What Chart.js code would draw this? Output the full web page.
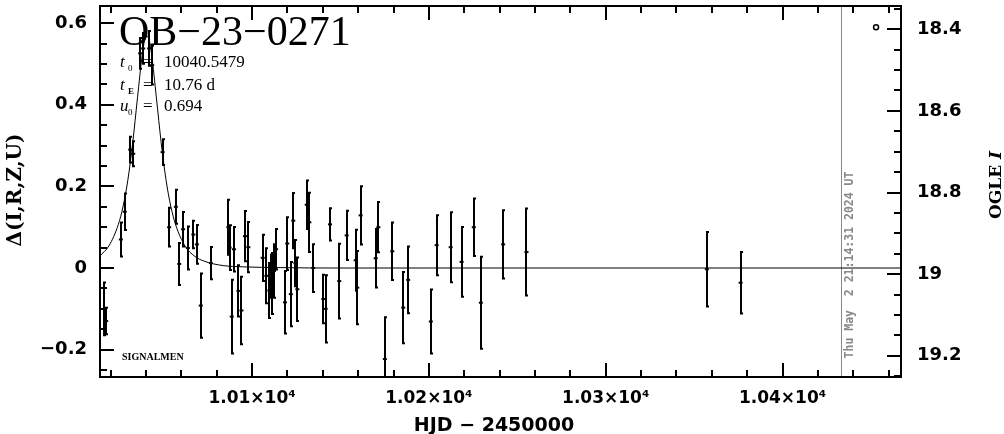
<!DOCTYPE html>
<html>
<head>
<meta charset="utf-8">
<script src="https://cdn.jsdelivr.net/npm/chart.js@4.4.1/dist/chart.umd.min.js"></script>
<style>
  html, body { margin: 0; padding: 0; background: #fff; overflow: hidden; }
</style>
</head>
<body>
<canvas id="lc" width="1004" height="434"></canvas>
<script>
// OGLE photometry: HJD - 2450000, delta mag and its error
const hjd = [10016.4, 10017.5, 10025.8, 10028.0, 10031.1, 10032.8, 10036.7, 10038.4, 10041.8, 10043.5,
  10049.4, 10053.1, 10056.9, 10058.8, 10061.0, 10063.7, 10066.8, 10068.8, 10071.0, 10076.7,
  10086.6, 10087.3, 10088.5, 10089.8, 10092.3, 10094.0, 10096.0, 10097.9, 10106.0, 10108.1,
  10109.8, 10110.5, 10111.1, 10112.4, 10113.6, 10118.6, 10119.9, 10121.9, 10123.3, 10124.5,
  10125.6, 10130.9, 10132.4, 10134.6, 10140.3, 10141.6, 10144.1, 10149.3, 10153.5, 10158.6,
  10159.5, 10161.4, 10169.9, 10171.4, 10175.1, 10179.3, 10185.5, 10188.3, 10201.1, 10204.4,
  10212.3, 10218.5, 10225.4, 10229.4, 10242.0, 10255.2, 10357.2, 10376.3];
const dmag = [-0.10, -0.13, 0.070, 0.138, 0.29, 0.28, 0.526, 0.538, 0.538, 0.497,
  0.284, 0.10, 0.15, 0.01, 0.095, 0.049, 0.082, 0.058, -0.092, 0.012,
  0.10, 0.05, -0.119, 0.046, -0.056, -0.104, 0.078, 0.051, 0.025, -0.019,
  -0.055, -0.02, -0.038, -0.007, 0.046, -0.084, 0.06, -0.064, 0.116, 0.012,
  -0.052, 0.155, 0.112, 0.0, -0.076, -0.10, 0.107, -0.032, 0.08, 0.019,
  -0.048, 0.129, 0.024, 0.10, -0.223, 0.041, -0.097, -0.029, -0.131, 0.056,
  0.051, 0.015, 0.10, -0.085, 0.058, 0.039, -0.003, -0.036];
const dmagErr = [0.067, 0.035, 0.044, 0.047, 0.034, 0.033, 0.04, 0.04, 0.045, 0.05,
  0.034, 0.05, 0.044, 0.054, 0.045, 0.055, 0.036, 0.05, 0.081, 0.042,
  0.07, 0.057, 0.093, 0.057, 0.065, 0.085, 0.064, 0.064, 0.059, 0.07,
  0.07, 0.055, 0.077, 0.068, 0.052, 0.079, 0.067, 0.081, 0.07, 0.059,
  0.08, 0.062, 0.075, 0.061, 0.062, 0.085, 0.042, 0.094, 0.063, 0.077,
  0.092, 0.074, 0.074, 0.064, 0.105, 0.073, 0.09, 0.084, 0.081, 0.076,
  0.088, 0.088, 0.073, 0.115, 0.086, 0.109, 0.094, 0.078];

// model curve as traced on the plot
const modelHjd = [10014, 10019.0, 10024.4, 10027.1, 10029.8, 10032.5, 10035.2, 10037.9, 10039.2, 10040.55,
  10041.9, 10043.2, 10045.9, 10048.6, 10051.3, 10054.0, 10056.7, 10062.1, 10067.5, 10072.8,
  10083.6, 10094.4, 10115.9, 10148.2, 10467];
const modelMag = [0.030, 0.054, 0.107, 0.152, 0.217, 0.307, 0.417, 0.523, 0.557, 0.569,
  0.557, 0.523, 0.417, 0.307, 0.217, 0.152, 0.107, 0.054, 0.029, 0.017,
  0.006, 0.003, 0.001, 0.0, 0.0];

// little circle marker top right
const markerHjd = [10452.9];
const markerMag = [0.59];

// tick labels
const xMajor = [10100, 10200, 10300, 10400];
const yMajor = [-0.2, 0, 0.2, 0.4, 0.6];
const magMajor = [18.4, 18.6, 18.8, 19, 19.2];

const stampHjd = 10433.2;
const stampText = "Thu May  2 21:14:31 2024 UT";

const black = "#000";
const tickFont = { family: "DejaVu Sans", size: 18, weight: "bold" };

function stepTicks(from, to, step, dec) {
  const out = [];
  const n = Math.round((to - from) / step);
  for (let i = 0; i <= n; i++) out.push({ value: +(from + i * step).toFixed(dec) });
  return out;
}
const isMajor = (v, list) => list.some(m => Math.abs(m - v) < 1e-6);

// fixed box sizes, no extra label padding
function fixBox(size, horizontal) {
  return s => {
    if (horizontal) s.height = size; else s.width = size;
    s.paddingTop = 0; s.paddingBottom = 0; s.paddingLeft = 0; s.paddingRight = 0;
  };
}

// ticks inside the frame, frame, error bars, texts
const lcPlugin = {
  id: "lcPlugin",
  beforeDatasetsDraw(chart) {
    const { ctx, chartArea: a, scales } = chart;
    const x = scales.x, y = scales.y;
    ctx.save();
    ctx.beginPath();
    ctx.rect(a.left, a.top, a.right - a.left, a.bottom - a.top);
    ctx.clip();
    // stamp line
    const sx = Math.round(x.getPixelForValue(stampHjd));
    ctx.strokeStyle = "#888";
    ctx.lineWidth = 1;
    ctx.beginPath();
    ctx.moveTo(sx + 0.5, a.top);
    ctx.lineTo(sx + 0.5, a.bottom);
    ctx.stroke();
    // error bars
    ctx.strokeStyle = black;
    ctx.lineWidth = 2;
    for (let i = 0; i < hjd.length; i++) {
      const px = Math.round(x.getPixelForValue(hjd[i]));
      const top = y.getPixelForValue(dmag[i] + dmagErr[i]);
      const bot = y.getPixelForValue(dmag[i] - dmagErr[i]);
      ctx.beginPath();
      ctx.moveTo(px, top);
      ctx.lineTo(px, bot);
      ctx.moveTo(px - 1, top + 1);
      ctx.lineTo(px + 2, top + 1);
      ctx.moveTo(px - 1, bot - 1);
      ctx.lineTo(px + 2, bot - 1);
      ctx.stroke();
    }
    ctx.restore();
  },
  afterDraw(chart) {
    const { ctx, chartArea: a, scales } = chart;
    const x = scales.x, y = scales.y, y2 = scales.y2;
    ctx.save();
    ctx.strokeStyle = black;
    ctx.fillStyle = black;
    ctx.lineWidth = 2;
    ctx.beginPath();
    x.ticks.forEach(t => {
      const px = Math.round(x.getPixelForValue(t.value));
      const len = isMajor(t.value, xMajor) ? 14 : 7;
      ctx.moveTo(px, a.bottom);
      ctx.lineTo(px, a.bottom - len);
      ctx.moveTo(px, a.top);
      ctx.lineTo(px, a.top + len);
    });
    y.ticks.forEach(t => {
      const py = Math.round(y.getPixelForValue(t.value));
      const len = isMajor(t.value, yMajor) ? 14 : 7;
      ctx.moveTo(a.left, py);
      ctx.lineTo(a.left + len, py);
    });
    y2.ticks.forEach(t => {
      const py = Math.round(y2.getPixelForValue(t.value));
      const len = isMajor(t.value, magMajor) ? 14 : 7;
      ctx.moveTo(a.right, py);
      ctx.lineTo(a.right - len, py);
    });
    ctx.stroke();
    ctx.strokeRect(a.left, a.top, a.right - a.left, a.bottom - a.top);

    // title and fit parameters
    ctx.textBaseline = "alphabetic";
    ctx.textAlign = "left";
    ctx.font = '42px "Liberation Serif"';
    ctx.fillText("OB\u221223\u22120271", 119, 45);
    const params = [["t", "0", "10040.5479", 67], ["t", "E", "10.76 d", 90], ["u", "0", "0.694", 111]];
    params.forEach(p => {
      ctx.font = 'italic 17px "Liberation Serif"';
      ctx.fillText(p[0], 120, p[3]);
      ctx.font = (p[1] === "E" ? "bold " : "") + '9px "Liberation Serif"';
      ctx.fillText(p[1], 128, p[3] + 4);
      ctx.font = '17px "Liberation Serif"';
      ctx.fillText("=", 143, p[3]);
      ctx.fillText(p[2], 164, p[3]);
    });
    ctx.font = 'bold 10px "Liberation Serif"';
    ctx.fillText("SIGNALMEN", 122, 360);

    // axis titles
    ctx.textAlign = "center";
    ctx.font = 'bold 19px "DejaVu Sans"';
    ctx.fillText("HJD \u2212 2450000", 494, 431);
    ctx.save();
    ctx.translate(21, 190);
    ctx.rotate(-Math.PI / 2);
    ctx.font = 'bold 20px "DejaVu Serif"';
    ctx.fillText("\u0394(I,R,Z,U)", 0, 0);
    ctx.restore();
    ctx.save();
    ctx.translate(1001, 185);
    ctx.rotate(-Math.PI / 2);
    ctx.font = 'bold 17px "DejaVu Serif"';
    const w1 = ctx.measureText("OGLE ").width;
    ctx.font = 'bold italic 17px "DejaVu Serif"';
    const w2 = ctx.measureText("I").width;
    ctx.textAlign = "left";
    ctx.font = 'bold 17px "DejaVu Serif"';
    ctx.fillText("OGLE ", -(w1 + w2) / 2, 0);
    ctx.font = 'bold italic 17px "DejaVu Serif"';
    ctx.fillText("I", -(w1 + w2) / 2 + w1, 0);
    ctx.restore();

    // date stamp
    ctx.save();
    ctx.translate(x.getPixelForValue(stampHjd) + 12, 265);
    ctx.rotate(-Math.PI / 2);
    ctx.fillStyle = "#888";
    ctx.font = 'bold 11.5px "DejaVu Sans Mono"';
    ctx.textAlign = "center";
    ctx.fillText(stampText, 0, 0);
    ctx.restore();
    ctx.restore();
  }
};

new Chart(document.getElementById("lc"), {
  type: "scatter",
  data: {
    datasets: [
      {
        type: "line",
        data: modelHjd.map((t, i) => ({ x: t, y: modelMag[i] })),
        borderColor: black,
        borderWidth: 1,
        pointRadius: 0,
        fill: false,
        cubicInterpolationMode: "monotone"
      },
      {
        data: hjd.map((t, i) => ({ x: t, y: dmag[i] })),
        pointStyle: "line",
        pointRadius: 2,
        borderColor: black,
        borderWidth: 2
      },
      {
        data: markerHjd.map((t, i) => ({ x: t, y: markerMag[i] })),
        pointStyle: "circle",
        pointRadius: 2.5,
        borderColor: black,
        backgroundColor: "#fff",
        borderWidth: 1.5
      }
    ]
  },
  options: {
    responsive: false,
    animation: false,
    devicePixelRatio: 1,
    layout: { padding: { top: 2, left: 0, right: 0, bottom: 0 } },
    plugins: { legend: { display: false }, tooltip: { enabled: false } },
    scales: {
      x: {
        type: "linear",
        position: "bottom",
        min: 10014,
        max: 10467,
        afterBuildTicks: s => { s.ticks = stepTicks(10020, 10460, 20, 0); },
        afterFit: fixBox(57, true),
        grid: { display: false, drawTicks: false },
        border: { display: false },
        ticks: {
          autoSkip: false,
          maxRotation: 0,
          minRotation: 0,
          padding: 11,
          color: black,
          font: { family: "DejaVu Sans", size: 17, weight: "bold" },
          callback: v => isMajor(v, xMajor) ? (v / 1e4).toFixed(2) + "\u00d710\u2074" : ""
        }
      },
      y: {
        type: "linear",
        position: "left",
        min: -0.267,
        max: 0.642,
        afterBuildTicks: s => { s.ticks = stepTicks(-0.25, 0.6, 0.05, 2); },
        afterFit: fixBox(100, false),
        grid: { display: false, drawTicks: false },
        border: { display: false },
        ticks: {
          autoSkip: false,
          padding: 13,
          color: black,
          font: tickFont,
          callback: v => isMajor(v, yMajor) ? (v < 0 ? "\u2212" : "") + Math.abs(+v.toFixed(2)) : ""
        }
      },
      y2: {
        type: "linear",
        position: "right",
        reverse: true,
        min: 18.343,
        max: 19.252,
        afterBuildTicks: s => { s.ticks = stepTicks(18.35, 19.25, 0.05, 2); },
        afterFit: fixBox(103, false),
        grid: { display: false, drawTicks: false },
        border: { display: false },
        ticks: {
          autoSkip: false,
          padding: 16,
          color: black,
          font: tickFont,
          callback: v => isMajor(v, magMajor) ? String(+v.toFixed(2)) : ""
        }
      }
    }
  },
  plugins: [lcPlugin]
});
</script>
</body>
</html>
